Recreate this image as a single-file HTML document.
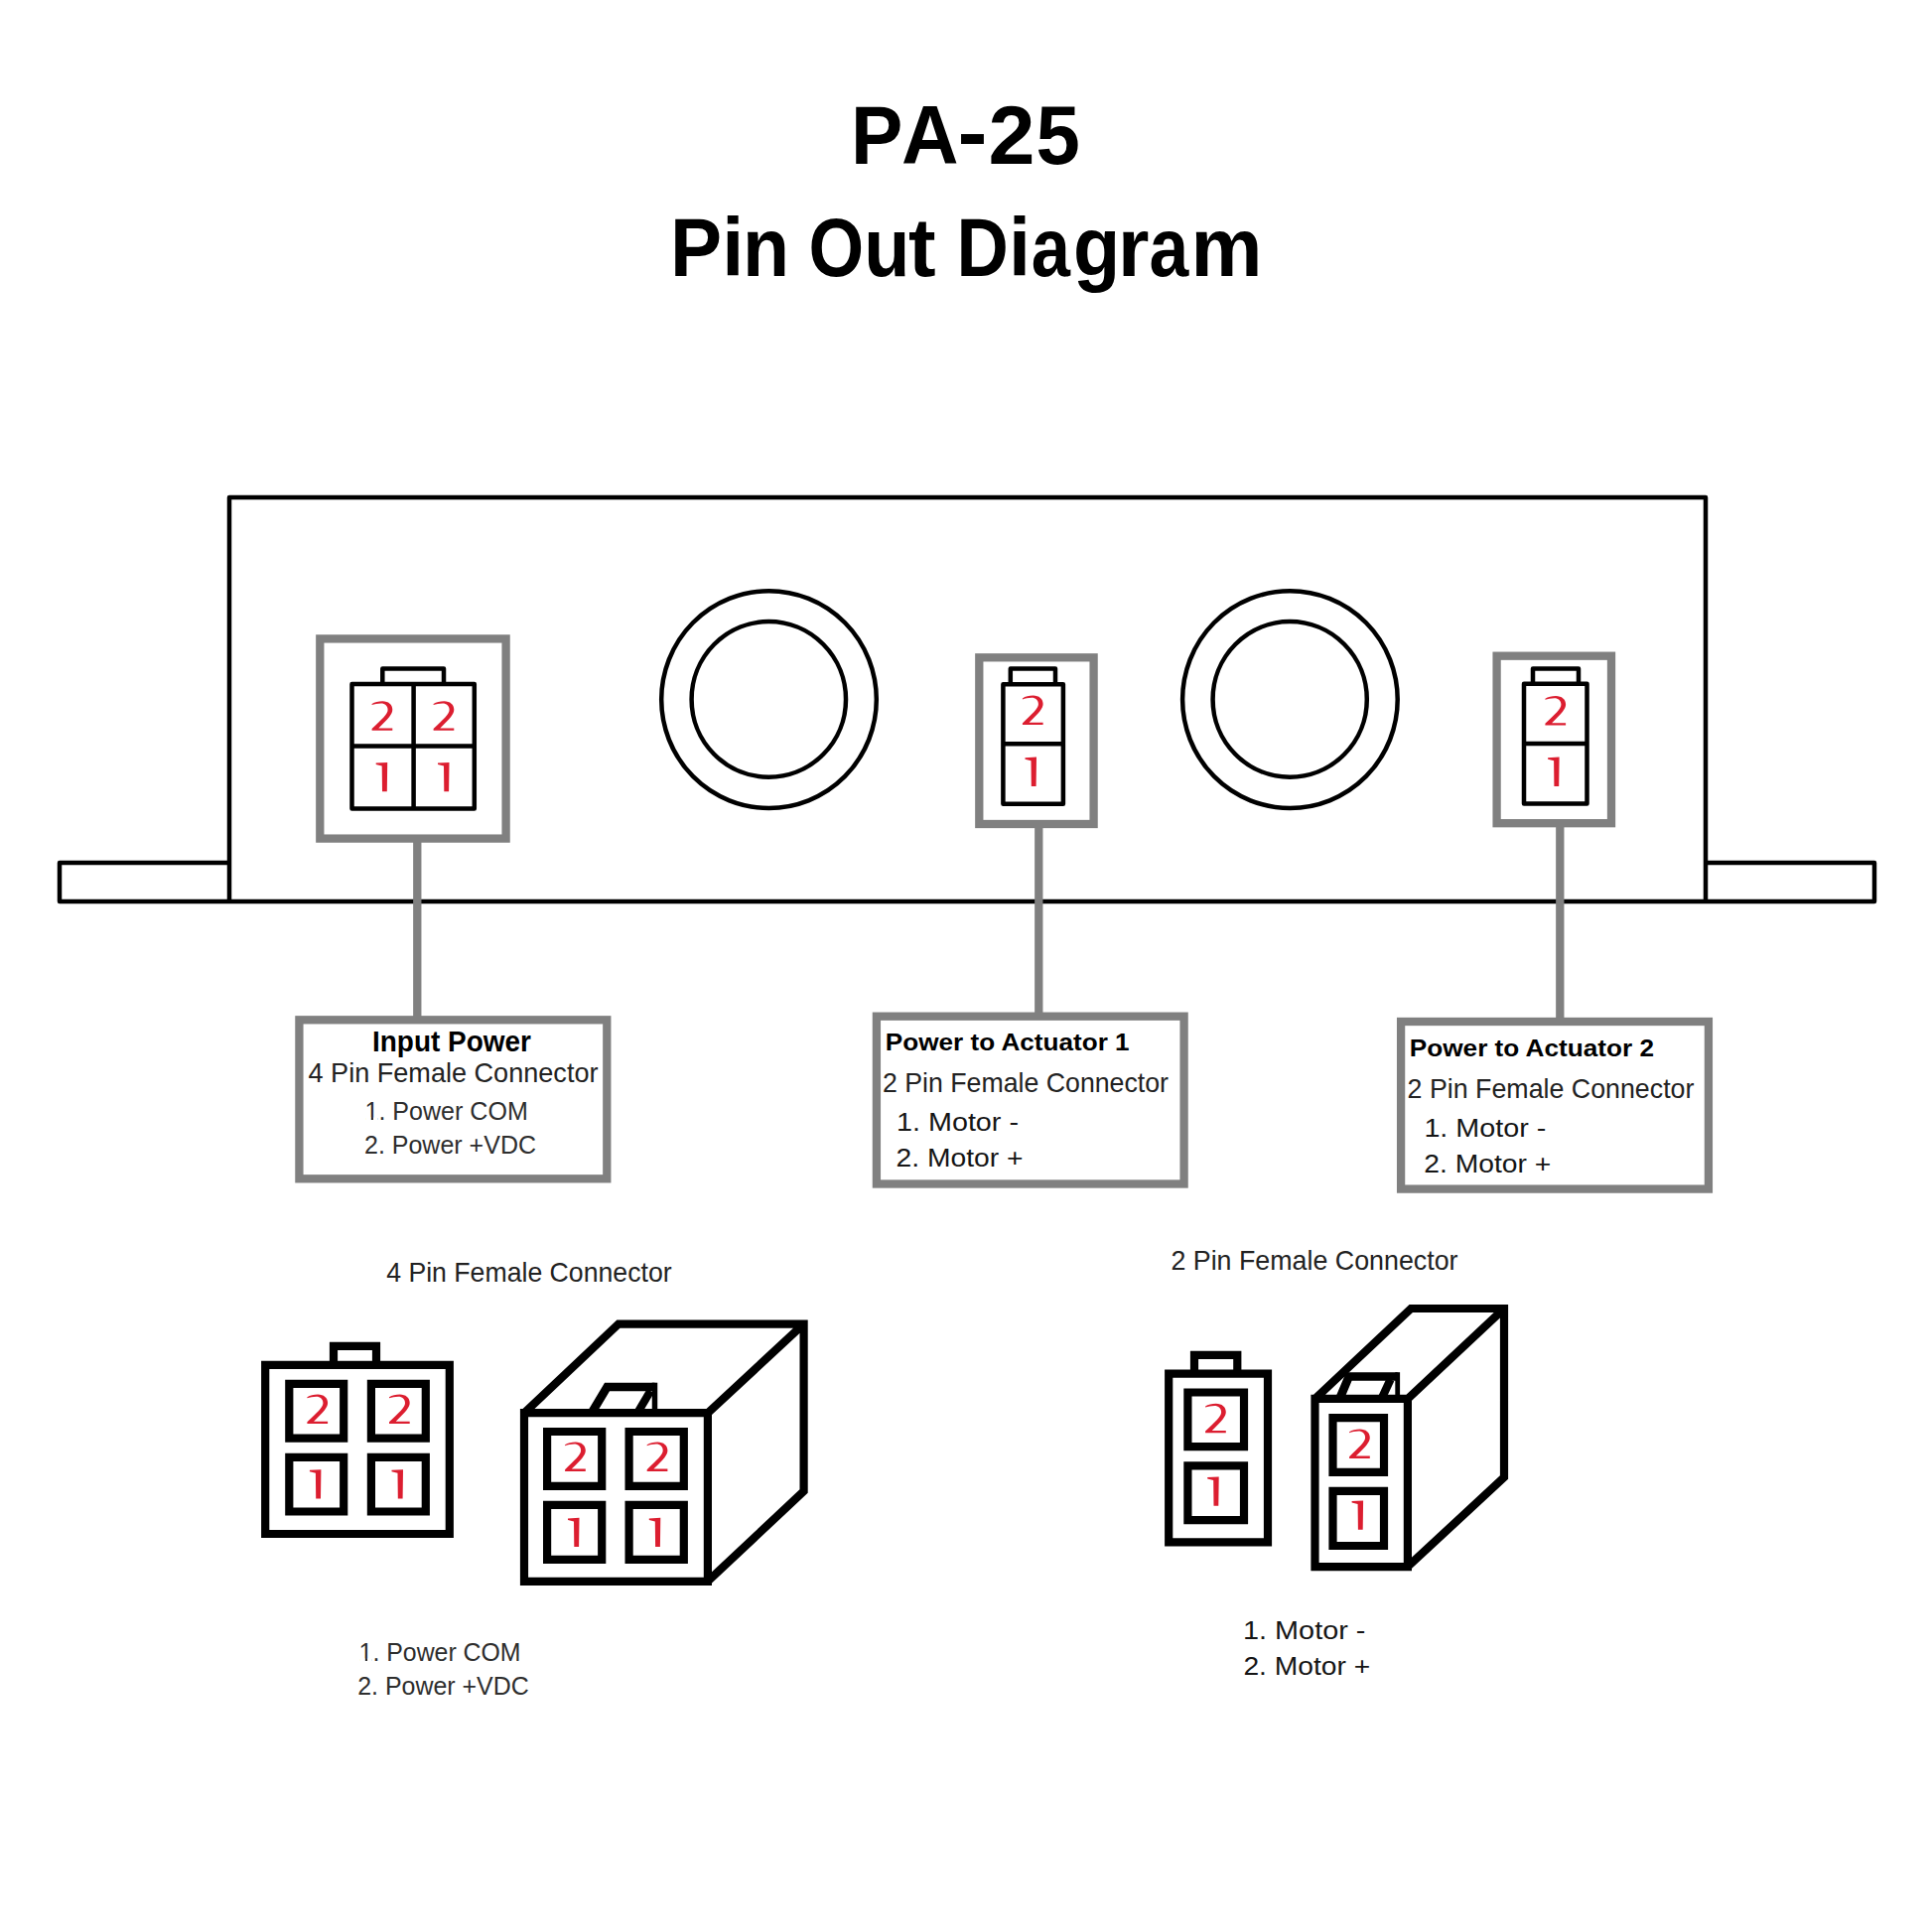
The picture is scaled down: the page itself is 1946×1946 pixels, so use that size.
<!DOCTYPE html>
<html>
<head>
<meta charset="utf-8">
<style>
html,body{margin:0;padding:0;background:#fff;}
body{width:1946px;height:1946px;overflow:hidden;}
svg{display:block;}
text{font-family:"Liberation Sans",sans-serif;}
.k{fill:none;stroke:#000;stroke-width:4.5;stroke-linejoin:round;stroke-linecap:round;}
.g{fill:none;stroke:#808080;stroke-width:8.3;}
.K{fill:none;stroke:#000;stroke-width:8.2;}
.r{fill:#e31e24;font-size:40px;}
.t{fill:#1e1e1e;}
</style>
</head>
<body>
<svg width="1946" height="1946" viewBox="0 0 1946 1946">
<defs>
<path id="d2" d="M0.3 2.8 C3 0.8 7 0 11 0 C17 0 21 3.5 21 8.5 C21 13 17 17.5 7 27.2 L21 27.2 L21 29.5 L0.3 29.5 L0.3 27.8 C10 18.5 16.3 13 16.3 8.7 C16.3 4.6 13.5 2.2 9.5 2.2 C6 2.2 3 3 0.3 3.8 Z"/>
<path id="d1" d="M0 0.6 L11.5 0 L11.1 29.3 L6.3 29.3 L6 3.6 L0 2.1 Z"/>
</defs>
<rect width="1946" height="1946" fill="#fff"/>
<!-- Title -->
<g fill="#000">
<text transform="translate(856.95 165.2) scale(0.9396 1)" font-size="83.5" font-weight="bold">P</text>
<text transform="translate(908.01 165.2) scale(0.9550 1)" font-size="83.5" font-weight="bold">A</text>
<text transform="translate(964.58 162.3) scale(1.0801 1)" font-size="83.5" font-weight="bold">-</text>
<text transform="translate(995.57 165.2) scale(1.0124 1)" font-size="83.5" font-weight="bold">2</text>
<text transform="translate(1043.45 165.2) scale(0.9556 1)" font-size="83.5" font-weight="bold">5</text>
<text transform="translate(674.88 278.2) scale(0.9354 1)" font-size="83.5" font-weight="bold">P</text>
<text transform="translate(727.32 278.2) scale(0.9500 1)" font-size="83.5" font-weight="bold">i</text>
<text transform="translate(748.02 278.2) scale(0.9226 1)" font-size="83.5" font-weight="bold">n</text>
<text transform="translate(814.57 278.2) scale(0.8566 1)" font-size="83.5" font-weight="bold">O</text>
<text transform="translate(870.31 278.2) scale(0.9052 1)" font-size="83.5" font-weight="bold">u</text>
<text transform="translate(915.09 278.2) scale(0.9935 1)" font-size="83.5" font-weight="bold">t</text>
<text transform="translate(963.46 278.2) scale(0.8670 1)" font-size="83.5" font-weight="bold">D</text>
<text transform="translate(1016.12 278.2) scale(0.9500 1)" font-size="83.5" font-weight="bold">i</text>
<text transform="translate(1038.73 278.2) scale(0.8445 1)" font-size="83.5" font-weight="bold">a</text>
<text transform="translate(1081.03 278.2) scale(0.9263 1)" font-size="83.5" font-weight="bold">g</text>
<text transform="translate(1126.07 278.2) scale(0.9679 1)" font-size="83.5" font-weight="bold">r</text>
<text transform="translate(1157.51 278.2) scale(0.8557 1)" font-size="83.5" font-weight="bold">a</text>
<text transform="translate(1199.47 278.2) scale(0.9691 1)" font-size="83.5" font-weight="bold">m</text>
</g>

<!-- Enclosure -->
<path class="k" d="M231 908 V501 H1718 V908 M60 908 H1888 M60 908 V869 H231 M1718 869 H1888 V908"/>

<!-- circles -->
<ellipse class="k" cx="774.5" cy="704.6" rx="108.3" ry="109.4"/>
<ellipse class="k" cx="774.3" cy="704.4" rx="77.7" ry="78.3"/>
<ellipse class="k" cx="1299.4" cy="704.6" rx="108.3" ry="109.4"/>
<ellipse class="k" cx="1299.2" cy="704.4" rx="77.6" ry="78.3"/>

<!-- Gray connector boxes -->
<rect class="g" x="322.3" y="643.4" width="187.3" height="201.2"/>
<rect class="g" x="986.3" y="662.3" width="115.3" height="167.7"/>
<rect class="g" x="1507.6" y="660.7" width="115.4" height="168.5"/>
<!-- gray leader lines -->
<path class="g" d="M420.3 845 V1024 M1046.3 832 V1020 M1571.3 831 V1025"/>

<!-- 4-pin in enclosure -->
<path class="k" d="M354.5 689 H477.8 V814.5 H354.5 Z M416.6 689 V814.5 M354.5 751.5 H477.8 M385.3 689 V673.6 H447 V689"/>

<!-- 2-pin in enclosure #1 -->
<path class="k" d="M1010.4 689.3 H1070.9 V809.8 H1010.4 Z M1010.4 749.3 H1070.9 M1017.8 689.3 V673.6 H1063 V689.3"/>

<!-- 2-pin in enclosure #2 -->
<path class="k" d="M1535 688.7 H1598.5 V809.4 H1535 Z M1535 749 H1598.5 M1544 688.7 V673.4 H1590 V688.7"/>

<!-- Label boxes -->
<rect class="g" x="301.4" y="1027.3" width="309.9" height="160"/>
<rect class="g" x="882.9" y="1023.7" width="309.7" height="168.8"/>
<rect class="g" x="1411.1" y="1029" width="309.8" height="168.6"/>

<g class="t">
<text fill="#000" x="375" y="1059" font-size="28.7" font-weight="bold" textLength="160" lengthAdjust="spacingAndGlyphs">Input Power</text>
<text fill="#222" x="310.5" y="1090" font-size="28" textLength="292" lengthAdjust="spacingAndGlyphs">4 Pin Female Connector</text>
<text fill="#2e2e2e" x="367.5" y="1128" font-size="25" textLength="164.3" lengthAdjust="spacingAndGlyphs">1. Power COM</text>
<text fill="#2e2e2e" x="367" y="1162" font-size="25" textLength="173" lengthAdjust="spacingAndGlyphs">2. Power +VDC</text>

<text fill="#000" x="891.8" y="1058.4" font-size="24.8" font-weight="bold" textLength="245.8" lengthAdjust="spacingAndGlyphs">Power to Actuator 1</text>
<text fill="#222" x="889" y="1100" font-size="28.5" textLength="288" lengthAdjust="spacingAndGlyphs">2 Pin Female Connector</text>
<text fill="#151515" x="903" y="1139.4" font-size="25.5" textLength="123" lengthAdjust="spacingAndGlyphs">1. Motor -</text>
<text fill="#151515" x="902.5" y="1175.4" font-size="25.5" textLength="128" lengthAdjust="spacingAndGlyphs">2. Motor +</text>

<text fill="#000" x="1419.8" y="1063.7" font-size="24.8" font-weight="bold" textLength="246.2" lengthAdjust="spacingAndGlyphs">Power to Actuator 2</text>
<text fill="#222" x="1417.6" y="1105.6" font-size="28.5" textLength="288.8" lengthAdjust="spacingAndGlyphs">2 Pin Female Connector</text>
<text fill="#151515" x="1434.4" y="1145.2" font-size="25.5" textLength="123" lengthAdjust="spacingAndGlyphs">1. Motor -</text>
<text fill="#151515" x="1434.3" y="1180.7" font-size="25.5" textLength="128" lengthAdjust="spacingAndGlyphs">2. Motor +</text>

<text fill="#222" x="389.2" y="1291" font-size="28" textLength="287.4" lengthAdjust="spacingAndGlyphs">4 Pin Female Connector</text>
<text fill="#222" x="1179.4" y="1279.3" font-size="28.5" textLength="289.1" lengthAdjust="spacingAndGlyphs">2 Pin Female Connector</text>
<text fill="#2e2e2e" x="361.6" y="1673" font-size="25.2" textLength="163" lengthAdjust="spacingAndGlyphs">1. Power COM</text>
<text fill="#2e2e2e" x="360.2" y="1707.4" font-size="25.2" textLength="172.6" lengthAdjust="spacingAndGlyphs">2. Power +VDC</text>
<text fill="#151515" x="1252" y="1650.6" font-size="26.4" textLength="123.4" lengthAdjust="spacingAndGlyphs">1. Motor -</text>
<text fill="#151515" x="1252.4" y="1686.6" font-size="26.4" textLength="127.8" lengthAdjust="spacingAndGlyphs">2. Motor +</text>
</g>

<!-- remove foot of "1" (Arial-style) -->
<g fill="#fff">
<rect x="368.9" y="1125.6" width="4.9" height="3.2"/><rect x="376.02" y="1125.6" width="4.6" height="3.2"/>
<rect x="363.0" y="1670.6" width="4.85" height="3.2"/><rect x="370.05" y="1670.6" width="4.6" height="3.2"/>
</g>

<!-- Bottom flat 4-pin -->
<path class="K" d="M267.2 1374.8 H452.8 V1545 H267.2 Z M336 1374.8 V1355.8 H379 V1374.8"/>
<path class="K" d="M291.3 1393.8 H346.2 V1448.7 H291.3 Z M373.9 1393.8 H428.8 V1448.7 H373.9 Z M291.3 1467.9 H346.2 V1522.5 H291.3 Z M373.9 1467.9 H428.8 V1522.5 H373.9 Z"/>

<!-- Bottom 3D 4-pin -->
<path class="K" d="M528 1423.2 H712.9 V1592.8 H528 Z M528 1423.2 L623 1333.6 H809.6 V1502 L712.9 1592.8 M712.9 1423.2 L809.6 1333.6"/>
<path class="K" style="stroke-width:8.6;stroke-linejoin:miter" d="M596 1423 L611.5 1397 H659.5"/>
<path class="K" style="stroke-width:5.5" d="M659.5 1392.7 V1423"/>
<path class="K" style="stroke-width:8.2" d="M642.2 1423 L655.2 1401"/>
<path class="K" d="M551.1 1442 H606.2 V1496.8 H551.1 Z M633.6 1442 H688.8 V1496.8 H633.6 Z M551.1 1515.8 H606.2 V1570.8 H551.1 Z M633.6 1515.8 H688.8 V1570.8 H633.6 Z"/>

<!-- Bottom flat 2-pin -->
<path class="K" d="M1177.2 1383.7 H1277 V1553.4 H1177.2 Z M1203 1383.7 V1364.8 H1246.3 V1383.7"/>
<path class="K" d="M1196.4 1402.5 H1253 V1457.2 H1196.4 Z M1196.4 1476.3 H1253 V1531.2 H1196.4 Z"/>

<!-- Bottom 3D 2-pin -->
<path class="K" d="M1324.5 1408.9 H1417.9 V1578.1 H1324.5 Z M1324.5 1408.9 L1421.2 1318 H1515 V1488 L1417.9 1578.1 M1417.9 1408.9 L1515 1318"/>
<path class="K" style="stroke-width:8.6;stroke-linejoin:miter" d="M1349.3 1409 L1358.7 1386.5 H1407.7"/>
<path class="K" style="stroke-width:4.8" d="M1407.7 1382.2 V1409"/>
<path class="K" style="stroke-width:8.2" d="M1391.5 1409 L1400.5 1389.5"/>
<path class="K" d="M1342.5 1428.1 H1394 V1482.9 H1342.5 Z M1342.5 1501.9 H1394 V1557 H1342.5 Z"/>

<!-- red digits -->
<g fill="#dc1e30">
<use href="#d2" x="374.3" y="706.2"/><use href="#d2" x="436.3" y="706.2"/>
<use href="#d1" x="378.7" y="767.9"/><use href="#d1" x="441" y="767.9"/>
<use href="#d2" x="1029.6" y="700.6"/><use href="#d1" x="1032.5" y="762.6"/>
<use href="#d2" x="1556.1" y="701"/><use href="#d1" x="1559.1" y="762.6"/>
<use href="#d2" x="309.1" y="1404.5"/><use href="#d2" x="391.7" y="1404.5"/>
<use href="#d1" x="311.9" y="1480.2"/><use href="#d1" x="394.5" y="1480.2"/>
<use href="#d2" x="568.8" y="1452.4"/><use href="#d2" x="651.4" y="1452.4"/>
<use href="#d1" x="572" y="1528.8"/><use href="#d1" x="653.8" y="1528.8"/>
<use href="#d2" x="1213.8" y="1413.7"/><use href="#d1" x="1216.2" y="1487.5"/>
<use href="#d2" x="1358.8" y="1439.4"/><use href="#d1" x="1361.6" y="1511.5"/>
</g>
</svg>
</body>
</html>
